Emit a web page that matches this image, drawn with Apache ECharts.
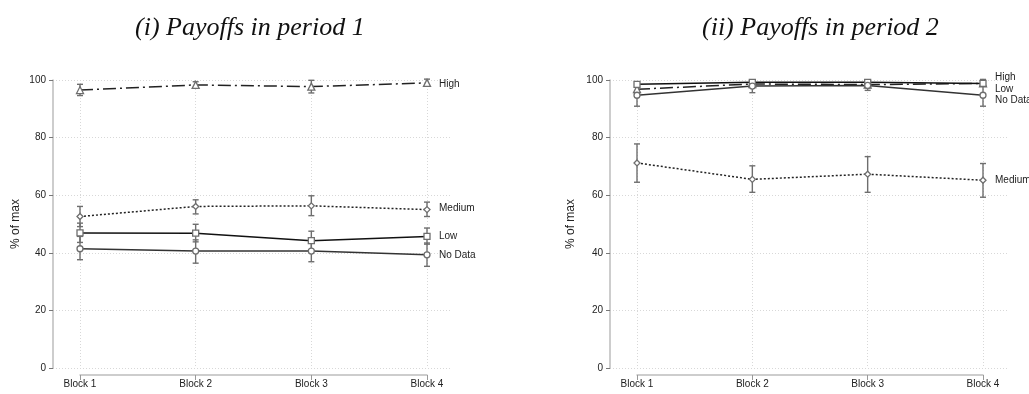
<!DOCTYPE html>
<html>
<head>
<meta charset="utf-8">
<script src="https://cdn.jsdelivr.net/npm/echarts@6/dist/echarts.min.js"></script>
<style>
  html, body { margin: 0; padding: 0; background: #fff; }
  #main { width: 1029px; height: 394px; }
</style>
</head>
<body>
<div id="main"></div>
<script>
// categories
var blocks = ['Block 1', 'Block 2', 'Block 3', 'Block 4'];
var yTicks = [0, 20, 40, 60, 80, 100];

// period 1 (mean, lower, upper)
var p1High = [96.5, 98.3, 97.7, 99.0];
var p1HighLo = [94.6, 97.2, 95.5, 98.0];
var p1HighHi = [98.5, 99.4, 99.9, 100.3];
var p1Medium = [52.6, 56.1, 56.3, 55.0];
var p1MediumLo = [49.1, 53.5, 52.9, 52.6];
var p1MediumHi = [56.1, 58.4, 59.8, 57.6];
var p1Low = [46.9, 46.8, 44.2, 45.7];
var p1LowLo = [43.6, 43.8, 40.7, 43.0];
var p1LowHi = [50.3, 49.9, 47.5, 48.6];
var p1NoData = [41.4, 40.6, 40.6, 39.3];
var p1NoDataLo = [37.6, 36.4, 36.9, 35.3];
var p1NoDataHi = [45.7, 44.5, 44.2, 43.4];

// period 2
var p2High = [96.8, 98.6, 98.4, 98.8];
var p2HighLo = [95.8, 97.6, 97.4, 97.8];
var p2HighHi = [97.8, 99.6, 99.4, 99.8];
var p2Medium = [71.2, 65.5, 67.3, 65.2];
var p2MediumLo = [64.5, 61.0, 61.0, 59.3];
var p2MediumHi = [77.8, 70.2, 73.4, 71.0];
var p2Low = [98.5, 99.2, 99.2, 98.8];
var p2LowLo = [97.6, 98.5, 98.4, 97.9];
var p2LowHi = [99.3, 99.8, 99.8, 100.2];
var p2NoData = [94.7, 97.9, 98.1, 94.7];
var p2NoDataLo = [90.9, 95.6, 96.4, 90.9];
var p2NoDataHi = [98.3, 100.0, 99.8, 98.5];

var myChart = echarts.init(document.getElementById('main'));

var markerGray = '#6e6e6e';

// error bars drawn from the axes' own scales
function errBars(axisIdx, lo, hi) {
  var data = lo.map(function (v, i) { return [i, v, hi[i]]; });
  return {
    type: 'custom',
    xAxisIndex: axisIdx,
    yAxisIndex: axisIdx,
    silent: true,
    z: 1,
    data: data,
    renderItem: function (params, api) {
      var top = api.coord([api.value(0), api.value(2)]);
      var bot = api.coord([api.value(0), api.value(1)]);
      var w = 3;
      var st = { stroke: markerGray, lineWidth: 1.4 };
      return {
        type: 'group',
        children: [
          { type: 'line', shape: { x1: top[0], y1: top[1], x2: bot[0], y2: bot[1] }, style: st },
          { type: 'line', shape: { x1: top[0] - w, y1: top[1], x2: top[0] + w, y2: top[1] }, style: st },
          { type: 'line', shape: { x1: bot[0] - w, y1: bot[1], x2: bot[0] + w, y2: bot[1] }, style: st }
        ]
      };
    }
  };
}

function lineSeries(axisIdx, name, data, symbol, color, dash, dy) {
  return {
    type: 'line',
    name: name,
    xAxisIndex: axisIdx,
    yAxisIndex: axisIdx,
    data: data,
    symbol: symbol,
    symbolSize: symbol === 'triangle' ? 7 : 6,
    showAllSymbol: true,
    z: 3,
    lineStyle: { color: color, width: 1.5, type: dash },
    itemStyle: { color: '#fff', borderColor: markerGray, borderWidth: 1.3 },
    endLabel: {
      show: true,
      formatter: name,
      color: '#222',
      fontSize: 10,
      fontFamily: 'Liberation Sans',
      offset: [4, dy]
    },
    animation: false
  };
}

var gridStyle = { show: true, lineStyle: { color: '#d8d8d8', type: [1, 2], width: 1 } };

function outerY(gi, gap) {
  return {
    type: 'value', gridIndex: gi, min: 0, max: 100, interval: 20,
    name: '% of max', nameLocation: 'middle', nameGap: gap, nameRotate: 90,
    nameTextStyle: { fontSize: 12, color: '#222', fontFamily: 'Liberation Sans' },
    axisLine: { show: true, lineStyle: { color: '#bdbdbd', width: 1.5 } },
    axisTick: { show: true, length: 4, lineStyle: { color: '#777' } },
    axisLabel: { fontSize: 10, color: '#222', margin: 7, fontFamily: 'Liberation Sans' },
    splitLine: gridStyle
  };
}
function innerY(gi) {
  return { type: 'value', gridIndex: gi, min: 0, max: 100, show: false };
}
function outerX(gi) {
  return { type: 'value', gridIndex: gi, min: 0, max: 1, show: false };
}
function innerX(gi) {
  return {
    type: 'category', gridIndex: gi, data: blocks, boundaryGap: false, offset: 7,
    axisLine: { show: true, onZero: false, lineStyle: { color: '#bdbdbd', width: 1.5 } },
    axisTick: { show: true, length: 5, lineStyle: { color: '#999' } },
    axisLabel: { fontSize: 10, color: '#222', margin: 4, fontFamily: 'Liberation Sans' },
    splitLine: gridStyle
  };
}

var titleStyle = { fontFamily: 'Liberation Serif', fontStyle: 'italic', fontWeight: 'normal', fontSize: 26, color: '#111' };

var option = {
  animation: false,
  backgroundColor: '#fff',
  title: [
    { text: '(i) Payoffs in period 1', left: 130, top: 10, textStyle: titleStyle },
    { text: '(ii) Payoffs in period 2', left: 697, top: 10, textStyle: titleStyle }
  ],
  grid: [
    { left: 53, top: 80, width: 399, height: 288 },
    { left: 80, top: 80, width: 347, height: 288 },
    { left: 610, top: 80, width: 398, height: 288 },
    { left: 637, top: 80, width: 346, height: 288 }
  ],
  xAxis: [outerX(0), innerX(1), outerX(2), innerX(3)],
  yAxis: [outerY(0, 31), innerY(1), outerY(2, 33), innerY(3)],
  series: [
    errBars(1, p1HighLo, p1HighHi),
    errBars(1, p1MediumLo, p1MediumHi),
    errBars(1, p1LowLo, p1LowHi),
    errBars(1, p1NoDataLo, p1NoDataHi),
    lineSeries(1, 'High', p1High, 'triangle', '#222', [13, 4, 2, 4], 1),
    lineSeries(1, 'Medium', p1Medium, 'diamond', '#222', [2, 2], -1),
    lineSeries(1, 'Low', p1Low, 'rect', '#111', 'solid', 0),
    lineSeries(1, 'No Data', p1NoData, 'circle', '#333', 'solid', 0),

    errBars(3, p2HighLo, p2HighHi),
    errBars(3, p2MediumLo, p2MediumHi),
    errBars(3, p2LowLo, p2LowHi),
    errBars(3, p2NoDataLo, p2NoDataHi),
    lineSeries(3, 'High', p2High, 'triangle', '#222', [13, 4, 2, 4], -6),
    lineSeries(3, 'Medium', p2Medium, 'diamond', '#222', [2, 2], 0),
    lineSeries(3, 'Low', p2Low, 'rect', '#111', 'solid', 6),
    lineSeries(3, 'No Data', p2NoData, 'circle', '#333', 'solid', 5)
  ]
};
myChart.setOption(option);
</script>
</body>
</html>
